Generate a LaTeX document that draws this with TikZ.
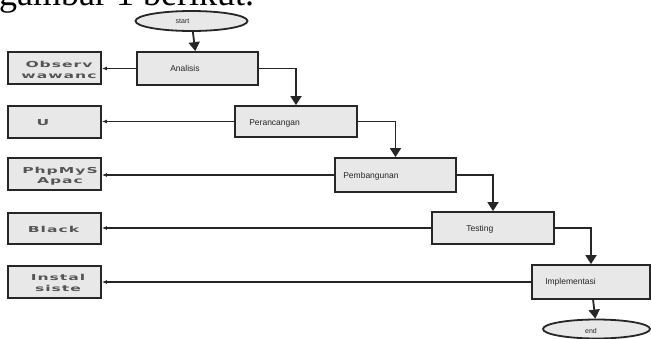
\documentclass[tikz,border=0pt]{standalone}
\usepackage{fontspec}
\setmainfont{Liberation Sans}
\newfontfamily\titlefont{Liberation Serif}
\newfontfamily\boxfont[FakeStretch=1.9,LetterSpace=12]{DejaVu Sans Bold}
\usetikzlibrary{arrows.meta,shapes.geometric}
\definecolor{ink}{HTML}{262626}
\definecolor{boxfill}{HTML}{E8E8E8}
\definecolor{sideink}{HTML}{555555}
\begin{document}
\begin{tikzpicture}[x=1pt,y=-1pt,
  stepbox/.style={draw=ink,line width=1.8pt,fill=boxfill,rectangle,inner sep=0pt,
    minimum width=121pt,minimum height=33pt},
  sidebox/.style={draw=ink,line width=1.8pt,fill=boxfill,rectangle,inner sep=0pt,
    minimum width=93pt,minimum height=32pt},
  term/.style={draw=ink,line width=1.8pt,fill=boxfill,ellipse,inner sep=0pt},
  steplabel/.style={anchor=west,inner sep=0pt,text=ink,font=\fontsize{8.5}{10}\selectfont},
  termlabel/.style={inner sep=0pt,text=ink,font=\fontsize{7}{8}\selectfont},
  sidelabel/.style={inner sep=0pt,text=sideink,align=center,font=\boxfont\fontsize{8.2}{10.5}\selectfont},
  flow/.style={draw=ink,line width=1.8pt,-{Triangle[width=11pt,length=9pt]}},
  side/.style={draw=ink,line width=1.8pt,-{Latex[width=4pt,length=5pt]}}
]
\useasboundingbox (0,0) rectangle (651,338);

% running text above the chart
\node[anchor=base west,inner sep=0pt,font=\titlefont\fontsize{36}{40}\selectfont] (caption) at (-1,5) {gambar 1 berikut.};

% terminators
\node[term,minimum width=112pt,minimum height=20pt] (start) at (191.5,21) {};
\node[termlabel] (start-t) at (182.5,21.5) {start};
\node[term,minimum width=107pt,minimum height=19pt] (end) at (596.5,329) {};
\node[termlabel] (end-t) at (591,331) {end};

% process steps
\node[stepbox] (ana) at (197.5,68.5) {};
\node[stepbox,minimum width=122pt,minimum height=31pt] (per) at (296,121.5) {};
\node[stepbox,minimum height=34pt] (pem) at (395.5,175) {};
\node[stepbox,minimum width=122pt,minimum height=32pt] (tes) at (493,228) {};
\node[stepbox,minimum width=118pt,minimum height=34pt] (imp) at (591,282) {};

\node[steplabel] (ana-t) at ([xshift=34pt]ana.west) {Analisis};
\node[steplabel] (per-t) at ([xshift=15pt,yshift=-1.5pt]per.west) {Perancangan};
\node[steplabel] (pem-t) at ([xshift=9pt,yshift=-1pt]pem.west) {Pembangunan};
\node[steplabel] (tes-t) at ([xshift=35pt,yshift=-1pt]tes.west) {Testing};
\node[steplabel] (imp-t) at ([xshift=14pt]imp.west) {Implementasi};

% outputs of each step
\node[sidebox] (obs) at (54.5,68) {};
\node[sidebox] (ui) at (54.5,122) {};
\node[sidebox] (php) at (54.5,174) {};
\node[sidebox,minimum height=31pt] (blk) at (54.5,228.5) {};
\node[sidebox] (ins) at (54.5,282) {};

\node[sidelabel] (obs-t) at (59,70) {Observ\\wawanc};
\node[sidelabel] (ui-t) at (43,123) {U};
\node[sidelabel] (php-t) at (60,176) {PhpMyS\\Apac};
\node[sidelabel] (blk-t) at (53.5,229) {Black};
\node[sidelabel] (ins-t) at (58,283) {Instal\\siste};

% main flow
\draw[flow] (start) -- (ana);
\draw[flow] (ana.east) -| (per.north);
\draw[flow] (per.east) -| (pem.north);
\draw[flow] (pem.east) -| (tes.north);
\draw[flow] (tes.east) -| (imp.north);
\draw[flow] (imp) -- (end);

% step outputs
\draw[side] (ana.west) -- (ana.west -| obs.east);
\draw[side] (per.west) -- (per.west -| ui.east);
\draw[side] (pem.west) -- (pem.west -| php.east);
\draw[side] (tes.west) -- (tes.west -| blk.east);
\draw[side] (imp.west) -- (imp.west -| ins.east);
\end{tikzpicture}
\end{document}
